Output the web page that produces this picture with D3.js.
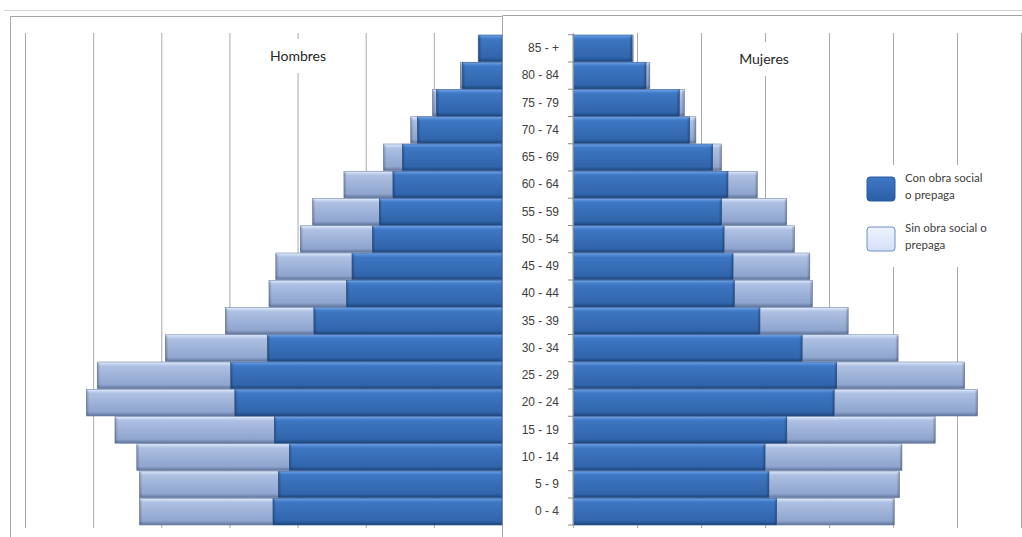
<!DOCTYPE html>
<html>
<head>
<meta charset="utf-8">
<script src="https://cdn.jsdelivr.net/npm/d3@7"></script>
<style>
  body { margin: 0; background: #fff; }
  svg { display: block; font-family: Lato, "Open Sans", sans-serif; }
</style>
</head>
<body>
<div id="chart"></div>
<script>
// age groups, bottom to top
var ageGroups = ["0 - 4", "5 - 9", "10 - 14", "15 - 19", "20 - 24", "25 - 29", "30 - 34", "35 - 39",
  "40 - 44", "45 - 49", "50 - 54", "55 - 59", "60 - 64", "65 - 69", "70 - 74", "75 - 79", "80 - 84", "85 - +"];

var hombresCon = [168, 164, 156, 167, 196, 199, 172, 138, 114, 110, 95, 90, 80, 73, 62, 48, 29, 17];
var hombresSin = [98, 102, 112, 117, 109, 98, 75, 65, 57, 56, 53, 49, 36, 14, 5, 3, 1.5, 0.5];
var mujeresCon = [159, 153, 150, 167, 204, 206, 179, 146, 126, 125, 118, 116, 121, 109, 91, 83, 57, 46];
var mujeresSin = [92, 102, 107, 116, 112, 100, 75, 69, 61, 60, 55, 51, 23, 7, 5, 4, 3, 1];

var gridTicks = [0, 50, 100, 150, 200, 250, 300, 350];
var legendLabels = [["Con obra social", "o prepaga"], ["Sin obra social o", "prepaga"]];

var width = 1022, height = 537;
var plotTop = 35, plotBottom = 525;

var svg = d3.select("#chart").append("svg")
  .attr("width", width)
  .attr("height", height);

// gradients for the bevelled bars
var defs = svg.append("defs");
function grad(id, stops, horiz) {
  var g = defs.append("linearGradient").attr("id", id)
    .attr("x1", 0).attr("y1", 0).attr("x2", horiz ? 1 : 0).attr("y2", horiz ? 0 : 1);
  stops.forEach(function(s) {
    g.append("stop").attr("offset", s[0]).attr("stop-color", s[1]).attr("stop-opacity", s[2] == null ? 1 : s[2]);
  });
}
grad("gCon", [[0, "#7aaaea"], [0.08, "#4f88d3"], [0.16, "#3d76c2"], [0.85, "#3065ab"], [1, "#1d4479"]]);
grad("gSin", [[0, "#e6effc"], [0.08, "#c4d4ef"], [0.16, "#adc0e3"], [0.85, "#8fa5ce"], [1, "#5f7399"]]);
grad("gCapL", [[0, "#000", 0.25], [1, "#000", 0]], true);
grad("gCapR", [[0, "#000", 0], [1, "#000", 0.25]], true);
grad("gLegCon", [[0, "#3f78c4"], [1, "#2a5ea6"]]);
grad("gLegSin", [[0, "#eef3fd"], [1, "#d3e0f8"]]);

var y = d3.scaleBand()
  .domain(ageGroups.slice().reverse())
  .range([plotTop, plotBottom])
  .paddingInner(0.02);

var xL = d3.scaleLinear().domain([0, 350]).range([502, 25]);
var xR = d3.scaleLinear().domain([0, 350]).range([573, 1021]);

// frames
svg.append("line").attr("x1", 4).attr("x2", width).attr("y1", 10.5).attr("y2", 10.5)
  .attr("stroke", "#d4d4d4");
svg.append("path").attr("d", "M10.5,537V16.5H502.5V537").attr("fill", "none").attr("stroke", "#a6a6a6");
svg.append("path").attr("d", "M502.5,15.5H1022").attr("fill", "none").attr("stroke", "#a6a6a6");

// gridlines
function grid(x) {
  var g = svg.append("g")
    .attr("transform", "translate(0," + 528 + ")")
    .call(d3.axisBottom(x).tickValues(gridTicks).tickSize(-(528 - 33)).tickFormat(""));
  g.select(".domain").remove();
  g.selectAll("line").attr("stroke", "#a9a9a9");
  return g;
}
grid(xL);
grid(xR);

// bars
function bars(x, con, sin, dir) {
  var g = svg.append("g");
  var segs = [];
  ageGroups.forEach(function(d, i) {
    segs.push({ age: d, v0: con[i], v1: con[i] + sin[i], fill: "url(#gSin)", stroke: "#6f82a6" });
    segs.push({ age: d, v0: 0, v1: con[i], fill: "url(#gCon)", stroke: "#264f8c" });
  });
  var s = g.selectAll("g.seg")
    .data(segs)
    .enter().append("g")
    .attr("class", "seg");
  s.append("rect")
    .attr("x", function(d) { return Math.min(x(d.v0), x(d.v1)); })
    .attr("width", function(d) { return Math.abs(x(d.v1) - x(d.v0)); })
    .attr("y", function(d) { return y(d.age); })
    .attr("height", y.bandwidth())
    .attr("fill", function(d) { return d.fill; })
    .attr("stroke", function(d) { return d.stroke; }).attr("stroke-width", 0.6);
  // bevelled outer end
  s.append("rect")
    .attr("x", function(d) {
      var w = Math.min(3, Math.abs(x(d.v1) - x(d.v0)));
      return dir < 0 ? x(d.v1) : x(d.v1) - w;
    })
    .attr("width", function(d) { return Math.min(3, Math.abs(x(d.v1) - x(d.v0))); })
    .attr("y", function(d) { return y(d.age) + 1; })
    .attr("height", y.bandwidth() - 2)
    .attr("fill", dir < 0 ? "url(#gCapL)" : "url(#gCapR)");
}
bars(xL, hombresCon, hombresSin, -1);
bars(xR, mujeresCon, mujeresSin, 1);

// category axis (right panel)
var ax = svg.append("g")
  .attr("transform", "translate(573,0)")
  .call(d3.axisLeft(y).tickSize(0).tickPadding(14));
ax.select(".domain").attr("stroke", "#8c8c8c");
ax.selectAll("text").attr("font-size", 12).attr("fill", "#404040");
svg.append("g").selectAll("line")
  .data(ageGroups.concat(["end"]))
  .enter().append("line")
  .attr("x1", 568).attr("x2", 573)
  .attr("y1", function(d) { return d === "end" ? plotBottom : y(d) - y.step() * y.paddingInner() / 2; })
  .attr("y2", function(d) { return d === "end" ? plotBottom : y(d) - y.step() * y.paddingInner() / 2; })
  .attr("stroke", "#8c8c8c");

// panel titles with white backing
function title(txt, cx, by) {
  var g = svg.append("g");
  g.append("rect").attr("x", cx - 34).attr("y", by - 22).attr("width", 68).attr("height", 34).attr("fill", "#fff");
  g.append("text").attr("x", cx).attr("y", by).attr("text-anchor", "middle")
    .attr("font-size", 14).attr("fill", "#262626").text(txt);
}
title("Hombres", 298, 61);
title("Mujeres", 764, 64);

// legend
var leg = svg.append("g").attr("transform", "translate(860,165)");
leg.append("rect").attr("width", 142).attr("height", 102).attr("fill", "#fff");
var li = leg.selectAll("g.item")
  .data(legendLabels)
  .enter().append("g")
  .attr("class", "item")
  .attr("transform", function(d, i) { return "translate(0," + (i * 50) + ")"; });
li.append("rect")
  .attr("x", 7).attr("y", 12).attr("width", 28).attr("height", 24).attr("rx", 3)
  .attr("fill", function(d, i) { return i === 0 ? "url(#gLegCon)" : "url(#gLegSin)"; })
  .attr("stroke", function(d, i) { return i === 0 ? "#2a5a9c" : "#6f8ec6"; });
li.selectAll("text")
  .data(function(d) { return d; })
  .enter().append("text")
  .attr("x", 45)
  .attr("y", function(d, j) { return 17 + j * 17; })
  .attr("font-size", 11.5).attr("fill", "#404040")
  .text(function(d) { return d; });
</script>
</body>
</html>
